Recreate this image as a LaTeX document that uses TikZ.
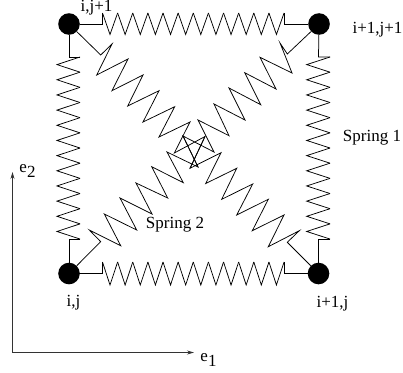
\documentclass[tikz,border=0pt]{standalone}
\usepackage{fontspec}
\setmainfont{Liberation Serif}
\usetikzlibrary{arrows.meta,positioning}
\begin{document}
\begin{tikzpicture}[x=1pt,y=-1pt,font=\fontsize{17}{19}\selectfont,
mass/.style={circle,fill=black,inner sep=0pt,minimum size=21.6pt},
spring/.style={line width=.75pt,draw=black,line join=miter},
axis/.style={-{Stealth[length=7pt,width=4pt]},line width=.8pt,draw=black!80},
lab/.style={inner sep=0pt}]
\useasboundingbox (0,0) rectangle (403,372);

\coordinate (origin) at (12.5,352.5);
\coordinate (etwoend) at (12.5,172);
\coordinate (eoneend) at (194,352.5);
\draw[axis](origin)--(etwoend);
\draw[axis](origin)--(eoneend);
\node[lab] (etwo) at (27.5,171){e\raisebox{-5pt}{2}};
\node[lab] (eone) at (208.5,360){e\raisebox{-5pt}{1}};

\node[mass] (massTL) at (69,24){};
\node[mass] (massTR) at (319,24){};
\node[mass] (massBL) at (69,273.5){};
\node[mass] (massBR) at (318.5,273.5){};

\node[lab] (labTL) at (96.5,8){i,j+1};
\node[lab] (labTR) at (377.5,30){i+1,j+1};
\node[lab] (labBL) at (73.5,303){i,j};
\node[lab] (labBR) at (332.5,304){i+1,j};
\node[lab] (springone) at (372,138){Spring 1};
\node[lab] (springtwo) at (175,225){Spring 2};

\draw[spring](massTL)--(102.5,24)--(102.5,13);
\draw[spring](284,13)--(284,24)--(massTR);
\draw[spring](massBL)--(102.5,273.5)--(102.5,262);
\draw[spring](284,262)--(284,273.5)--(massBR);
\foreach \k in {0,...,11}{
\draw[spring](102.5+15.13*\k,13)--(110+15.13*\k,34.5)--(117.63+15.13*\k,13);
\draw[spring](102.5+15.13*\k,262)--(110+15.13*\k,285)--(117.63+15.13*\k,262);
\draw[spring](80,57+15.17*\k)--(57,64.6+15.17*\k)--(80,72.17+15.17*\k);
\draw[spring](330,57+15.17*\k)--(306.7,64.6+15.17*\k)--(330,72.17+15.17*\k);
}
\draw[spring](massTL)--(69,57)--(80,57);
\draw[spring](80,239)--(69,239)--(massBL);
\draw[spring](massTR)--(318.5,57)--(330,57);
\draw[spring](330,239)--(318.5,239)--(massBR);

\draw[spring](massTL)--(100.7,55)--(112,44)--(96.7,75)--(128,59)--(112,90.7)--(143,75)--(127.7,106)--(159,90.7)--(143,122)--(174.7,106.7)--(159,137)--(190,122)--(174.3,153)--(205,136.5)--(190,168.3);
\draw[spring](massTR)--(287.3,54)--(280,43)--(292,73)--(260,57.3)--(276,89)--(244.7,72.7)--(260.7,104.7)--(229,88)--(245,120)--(214,104)--(229,135.7)--(198,120)--(214,152)--(183,136)--(198,167);
\draw[spring](massBL)--(100.7,241.7)--(89.3,230)--(120.7,245.7)--(104.3,214)--(136.7,230)--(120,198)--(152,214)--(136,183)--(167.7,198)--(151.7,166.7)--(183.3,182.7)--(167,152)--(198,167)--(183,136);
\draw[spring](massBR)--(287.3,242.3)--(299.3,230.7)--(268.3,246.7)--(284,215)--(252.3,230.7)--(268.3,199.3)--(236.7,215)--(252.7,184)--(221.7,199.3)--(236.7,168.3)--(205.7,183.5)--(221,152.7)--(190,168.3)--(205,136.5);
\end{tikzpicture}
\end{document}
